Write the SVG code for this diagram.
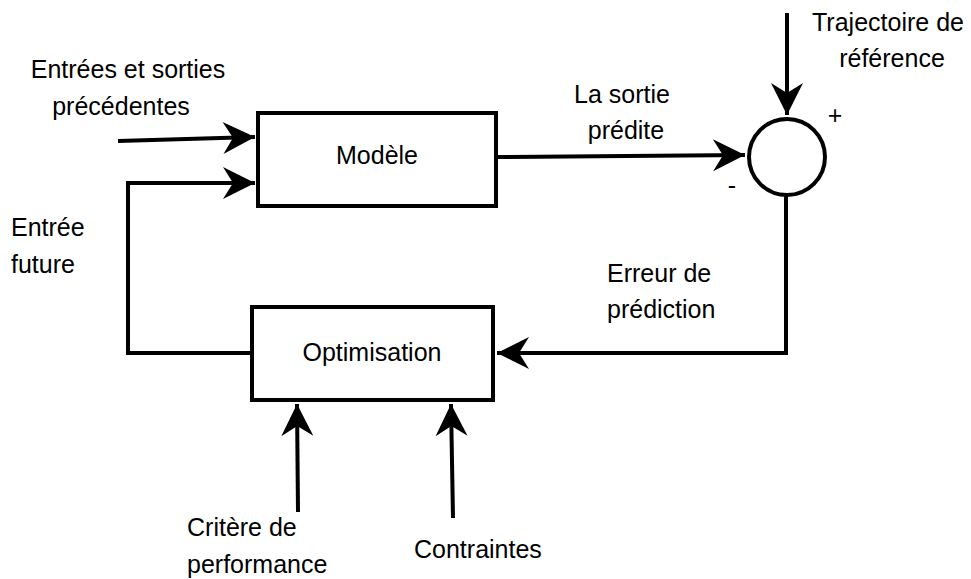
<svg xmlns="http://www.w3.org/2000/svg" width="971" height="579" viewBox="0 0 971 579">
  <style>
    text { font-family: "Liberation Sans", Arial, sans-serif; font-size: 25px; fill: #000; }
    .box { fill: #fff; stroke: #000; stroke-width: 4; }
    .sum { fill: #fff; stroke: #000; stroke-width: 4; }
    .wire { fill: none; stroke: #000; stroke-width: 4; stroke-linejoin: miter; }
    .mid { text-anchor: middle; }
  </style>
  <defs>
    <marker id="head" markerUnits="userSpaceOnUse" viewBox="-33 -17 35 34" refX="0" refY="0" markerWidth="35" markerHeight="34" orient="auto">
      <path d="M0,0 L-32,-16 L-22,0 L-32,16 Z" fill="#000"/>
    </marker>
  </defs>

  <!-- connectors -->
  <g id="connectors">
    <path class="wire" d="M118,141 L255,137" marker-end="url(#head)"/>
    <path class="wire" d="M252,353 L128,353 L128,183 L255,183" marker-end="url(#head)"/>
    <path class="wire" d="M498,157 L745,155" marker-end="url(#head)"/>
    <path class="wire" d="M787,13 L787,115" marker-end="url(#head)"/>
    <path class="wire" d="M786,195 L786,353 L497,353" marker-end="url(#head)"/>
    <path class="wire" d="M298,512 L297,404" marker-end="url(#head)"/>
    <path class="wire" d="M453,518 L451,404" marker-end="url(#head)"/>
  </g>

  <g id="modele">
    <rect class="box" x="258" y="113" width="238" height="93"/>
    <text class="mid" x="377" y="164">Modèle</text>
  </g>

  <g id="optimisation">
    <rect class="box" x="252" y="307" width="241" height="93"/>
    <text class="mid" x="372" y="361">Optimisation</text>
  </g>

  <g id="comparateur">
    <circle class="sum" cx="787" cy="157" r="38"/>
    <text class="mid" x="835" y="124">+</text>
    <text class="mid" x="732" y="194">-</text>
  </g>

  <g id="labels">
    <text class="mid" x="128" y="78">Entrées et sorties</text>
    <text class="mid" x="121" y="115">précédentes</text>
    <text x="11" y="236">Entrée</text>
    <text x="11" y="273">future</text>
    <text class="mid" x="622" y="103">La sortie</text>
    <text class="mid" x="626" y="139">prédite</text>
    <text class="mid" x="888" y="31">Trajectoire de</text>
    <text class="mid" x="892" y="67">référence</text>
    <text x="607" y="282">Erreur de</text>
    <text x="607" y="318">prédiction</text>
    <text x="187" y="536">Critère de</text>
    <text x="187" y="573">performance</text>
    <text x="414" y="558">Contraintes</text>
  </g>
</svg>
